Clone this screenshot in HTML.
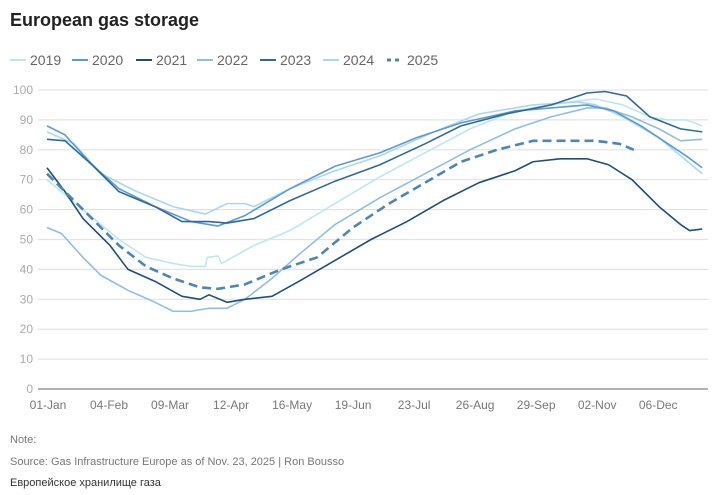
<!DOCTYPE html><html><head><meta charset="utf-8"><style>
body{margin:0;background:#fff;width:721px;height:490px;overflow:hidden;font-family:"Liberation Sans",sans-serif}
</style></head><body>
<svg width="721" height="490" xmlns="http://www.w3.org/2000/svg" font-family="Liberation Sans, sans-serif">
<text x="10" y="26" font-size="18" font-weight="bold" fill="#222">European gas storage</text>
<g font-size="14" fill="#666">
<line x1="10" y1="60" x2="26" y2="60" stroke="#bde6f5" stroke-width="2"/><text x="30" y="65">2019</text>
<line x1="72" y1="60" x2="88" y2="60" stroke="#5b9bd0" stroke-width="2"/><text x="92" y="65">2020</text>
<line x1="136" y1="60" x2="152" y2="60" stroke="#1f4e79" stroke-width="2"/><text x="156" y="65">2021</text>
<line x1="197" y1="60" x2="213" y2="60" stroke="#8fbde6" stroke-width="2"/><text x="217" y="65">2022</text>
<line x1="260" y1="60" x2="276" y2="60" stroke="#2d6a9a" stroke-width="2"/><text x="280" y="65">2023</text>
<line x1="323" y1="60" x2="339" y2="60" stroke="#a8d8f0" stroke-width="2"/><text x="343" y="65">2024</text>
<line x1="387" y1="60" x2="403" y2="60" stroke="#4a86b8" stroke-width="3" stroke-dasharray="4 4"/><text x="407" y="65">2025</text>
</g>
<g id="grid"></g>
<g id="lines" fill="none" stroke-linejoin="round"></g>
<g font-size="12" fill="#777" text-anchor="middle" id="xl"></g>
<text x="10" y="443" font-size="11" fill="#777">Note:</text>
<text x="10" y="465" font-size="11" fill="#777">Source: Gas Infrastructure Europe as of Nov. 23, 2025 | Ron Bousso</text>
<text x="10" y="486" font-size="11" fill="#333">Европейское хранилище газа</text>
</svg>
<script>
var NS="http://www.w3.org/2000/svg";
function el(p,t,a,txt){var e=document.createElementNS(NS,t);for(var k in a)e.setAttribute(k,a[k]);if(txt!=null)e.textContent=txt;document.getElementById(p).appendChild(e);}
function Y(v){return 389-2.99*v}function X(d){return 47+1.8*d}
for(var v=0;v<=100;v+=10){el("grid","line",{x1:38,x2:708,y1:Y(v),y2:Y(v),stroke:v?"#e3e3e3":"#999","stroke-width":v?1.2:1.5});
el("grid","text",{x:33,y:Y(v)+4,"font-size":12,fill:"#aaa","text-anchor":"end"},v);}
var lab=["01-Jan","04-Feb","09-Mar","12-Apr","16-May","19-Jun","23-Jul","26-Aug","29-Sep","02-Nov","06-Dec"];
lab.forEach(function(l,i){el("xl","text",{x:X(i*33.9)+1,y:409},l)});
var S=[
["#bde6f5",[[0,70],[20,60],[40,50],[55,44],[70,42],[80,41],[88,41],[89,44],[95,44.5],[97,42],[100,43],[115,48],[135,53],[160,62],[185,71],[210,79],[235,87],[260,93],[290,96],[305,97],[320,95],[335,91],[345,90],[355,90],[364,88]]],
["#a8d8f0",[[0,86],[15,82],[30,72],[50,66],[70,61],[88,58.5],[100,62],[110,62],[115,61],[135,67],[160,73],[185,78],[215,86],[240,92],[270,95],[295,96],[305,95],[320,91],[340,84],[352,78],[364,72]]],
["#8fbde6",[[0,54],[8,52],[20,44],[30,38],[45,33],[60,29],[70,26],[80,26],[90,27],[100,27],[110,30],[125,37],[140,45],[160,55],[185,64],[210,72],[235,80],[260,87],[280,91],[300,94],[310,94],[325,91],[340,87],[352,83],[364,83.5]]],
["#5b9bd0",[[0,88],[10,85],[25,75],[40,67],[60,61],[80,56],[95,54.5],[110,58],[135,67],[160,74.5],[185,79],[205,84],[230,89],[260,93],[300,95],[315,93],[330,88],[345,82],[355,78],[364,74]]],
["#2d6a9a",[[0,83.5],[10,83],[25,75],[40,66],[60,61],[75,56],[90,56],[100,55.5],[115,57],[135,63],[160,69.5],[185,75],[210,82],[230,88],[255,92],[280,95],[300,99],[310,99.5],[322,98],[335,91],[352,87],[364,86]]],
["#1f4e79",[[0,74],[10,66],[20,57],[35,48],[45,40],[60,36],[75,31],[85,30],[90,31.5],[100,29],[110,30],[125,31],[140,36],[160,43],[180,50],[200,56],[220,63],[240,69],[260,73],[270,76],[285,77],[300,77],[312,75],[325,70],[340,61],[352,55],[357,53],[364,53.5]]]
];
S.forEach(function(s){el("lines","polyline",{stroke:s[0],"stroke-width":1.6,points:s[1].map(function(p){return X(p[0])+","+Y(p[1])}).join(" ")})});
var d=[[0,72],[10,66],[25,57],[40,48],[55,41],[70,37],[85,34],[95,33.5],[110,35],[130,40],[150,44],[170,54],[190,62],[210,69],[230,76],[250,80],[270,83],[290,83],[305,83],[318,82],[326,80]];
el("lines","polyline",{stroke:"#4a86b8","stroke-width":2.6,"stroke-dasharray":"9 5",points:d.map(function(p){return X(p[0])+","+Y(p[1])}).join(" ")});
</script>
</body></html>
